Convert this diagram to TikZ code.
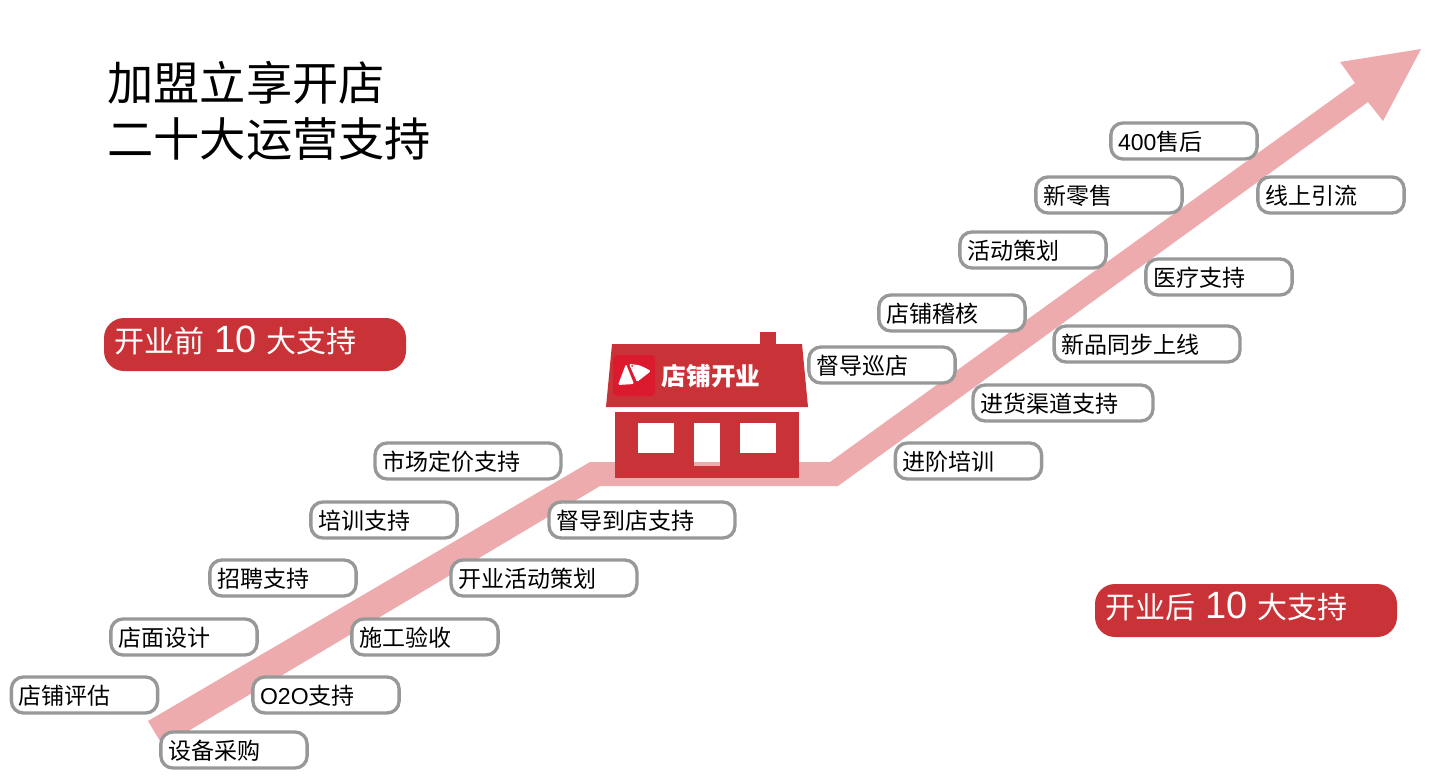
\documentclass[tikz,border=0pt]{standalone}
\usepackage{fontspec}
\setmainfont{Noto Sans CJK SC}
\newfontfamily\latinfont{Liberation Sans}
\definecolor{arrowpink}{HTML}{EDABAD}
\definecolor{boxgray}{HTML}{969998}
\definecolor{housered}{HTML}{C93337}
\definecolor{logored}{HTML}{DC1A2E}
\tikzset{
  supportbox/.style={draw=boxgray, line width=2.5pt, fill=white, rounded corners=9pt,
    minimum height=27pt, inner xsep=5.4pt, inner ysep=0pt, text width=#1, align=left,
    text height=16.7pt, text depth=2pt,
    font=\fontsize{17.25pt}{20pt}\selectfont},
  supportbox/.default=98.9pt,
  pill/.style={fill=housered, text=white, rounded corners=15pt, minimum width=226.5pt,
    minimum height=39.75pt, inner xsep=7.5pt, inner ysep=0pt, text width=211.5pt, align=left,
    text height=18pt, text depth=6pt,
    font=\fontsize{22.5pt}{26pt}\selectfont}
}
\newcommand{\bignum}[1]{{\latinfont\fontsize{28.5pt}{26pt}\selectfont #1}}
\begin{document}
\begin{tikzpicture}[x=0.75pt,y=-0.75pt]
\useasboundingbox (0,0) rectangle (1430,782);

\fill[arrowpink] (148,721) -- (590,462) -- (830,462) -- (1355,83) -- (1340,62) -- (1421,49)
  -- (1383,121) -- (1368,102) -- (838,486) -- (600,486) -- (163,746) -- cycle;

\node[anchor=west, font=\fontsize{34.7pt}{42pt}\selectfont, align=left, inner sep=0pt] (title) at (107,111)
  {加盟立享开店\\二十大运营支持};

\node[pill] (before) at (255,344.5) {开业前 \bignum{10} 大支持};
\node[pill] (after) at (1246,610.5) {开业后 \bignum{10} 大支持};

\fill[housered] (760,332) rectangle (776,346);
\fill[housered] (612,344) -- (802,344) -- (808,407) -- (606,407) -- cycle;
\fill[housered] (615,412) rectangle (799,478);
\fill[white] (638,423) rectangle (674,453);
\fill[white] (740,423) rectangle (776,453);
\fill[white] (694,423) rectangle (720,462);
\fill[arrowpink] (694,462) rectangle (720,466);
\fill[logored, rounded corners=3pt] (613,355) rectangle (655,396);
\fill[white, rounded corners=1pt] (626,364) -- (618,385) -- (634,384) -- cycle;
\fill[white, rounded corners=1pt] (629,364) .. controls (640,365) .. (651,371) -- (637,382) -- cycle;
\fill[logored] (632,366) circle (1);
\node[text=white, font=\fontsize{18.5pt}{20pt}\selectfont\bfseries, inner sep=0pt] (openlabel) at (711,376) {店铺开业};

\node[supportbox] (assess) at (84.5,695) {店铺评估};
\node[supportbox] (purchase) at (234,750) {设备采购};
\node[supportbox] (oto) at (326,695) {{\latinfont O2O}支持};
\node[supportbox] (design) at (184,637) {店面设计};
\node[supportbox] (accept) at (425,637) {施工验收};
\node[supportbox] (hire) at (283,578) {招聘支持};
\node[supportbox=128.6pt] (openplan) at (544,578) {开业活动策划};
\node[supportbox] (train) at (384,520) {培训支持};
\node[supportbox=128.6pt] (supervise) at (642,520) {督导到店支持};
\node[supportbox=128.6pt] (pricing) at (468,461) {市场定价支持};
\node[supportbox] (advanced) at (968.5,461) {进阶培训};
\node[supportbox=124.1pt] (channel) at (1063,403) {进货渠道支持};
\node[supportbox] (patrol) at (882,365) {督导巡店};
\node[supportbox=128.6pt] (newprod) at (1147,344) {新品同步上线};
\node[supportbox] (audit) at (952,313) {店铺稽核};
\node[supportbox] (medical) at (1219,277) {医疗支持};
\node[supportbox] (activity) at (1033,250) {活动策划};
\node[supportbox] (online) at (1331,195) {线上引流};
\node[supportbox] (retail) at (1109,195) {新零售};
\node[supportbox] (aftersale) at (1184,141) {{\latinfont 400}售后};
\end{tikzpicture}
\end{document}
